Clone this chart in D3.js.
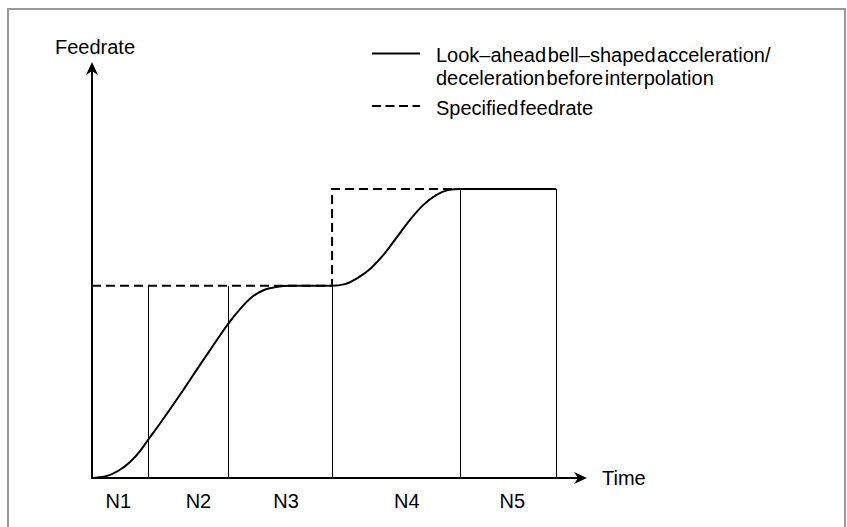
<!DOCTYPE html>
<html>
<head>
<meta charset="utf-8">
<script src="https://cdn.jsdelivr.net/npm/d3@7"></script>
<style>
  html, body { margin: 0; padding: 0; background: #fff; }
  svg { display: block; }
  text { font-family: "Liberation Sans", Arial, sans-serif; fill: #000; }
</style>
</head>
<body>
<svg id="chart" width="847" height="527"></svg>
<script>
// ---- data ----
const curveTime = [0, 2.63, 5.25, 7.68, 9.70, 11.31, 13.74, 17.78, 21.82, 24.85, 27.47, 29.90, 32.32, 34.75, 37.17, 40.0, 48.48, 51.1, 53.7, 56.4, 59.0, 61.6, 64.2, 66.9, 69.5, 71.9, 74.3, 93.7];
const curveFeed = [0, 0.36, 1.68, 3.85, 6.49, 9.13, 13.1, 20.0, 27.2, 32.5, 37.0, 40.6, 43.5, 45.2, 45.9, 46.2, 46.2, 46.6, 48.1, 50.5, 53.8, 57.9, 62.0, 65.6, 68.0, 69.2, 69.5, 69.5];
const specifiedTime = [0, 48.5, 48.5, 93.7];
const specifiedFeed = [46.2, 46.2, 69.5, 69.5];
const boundaryTime = [11.3, 27.5, 48.5, 74.3, 93.7];
const boundaryFeed = [46.2, 46.2, 46.2, 69.5, 69.5];
const segmentLabels = ["N1", "N2", "N3", "N4", "N5"];
const segmentLabelTime = [5.3, 21.5, 39.2, 63.6, 84.9];
const legendLabels = [["Look–ahead bell–shaped acceleration/", "deceleration before interpolation"], ["Specified feedrate"]];
const axisTitles = { x: "Time", y: "Feedrate" };

// ---- drawing ----
const svg = d3.select("#chart");
const x = d3.scaleLinear().domain([0, 100]).range([92, 587]);
const y = d3.scaleLinear().domain([0, 100]).range([478, 62]);

// frame
svg.append("rect").attr("x", 8).attr("y", 9).attr("width", 837).attr("height", 600)
  .attr("fill", "none").attr("stroke", "#9a9a9a").attr("stroke-width", 2);

// boundary lines
svg.selectAll("line.bound").data(boundaryTime).enter().append("line")
  .attr("class", "bound")
  .attr("x1", d => Math.round(x(d)) + 0.5).attr("x2", d => Math.round(x(d)) + 0.5)
  .attr("y1", y(0)).attr("y2", (d, i) => y(boundaryFeed[i]))
  .attr("stroke", "#000").attr("stroke-width", 1);

// specified feedrate (dashed)
const specPts = specifiedTime.map((t, i) => [t, specifiedFeed[i]]);
svg.append("path")
  .attr("d", d3.line().x(d => x(d[0])).y(d => y(d[1]))(specPts))
  .attr("fill", "none").attr("stroke", "#000").attr("stroke-width", 2)
  .attr("stroke-dasharray", "9,5");

// actual curve
const curvePts = curveTime.map((t, i) => [t, curveFeed[i]]);
svg.append("path")
  .attr("d", d3.line().curve(d3.curveMonotoneX).x(d => x(d[0])).y(d => y(d[1]))(curvePts))
  .attr("fill", "none").attr("stroke", "#000").attr("stroke-width", 2);

// axes
const x0 = x(0), y0 = y(0);
svg.append("line").attr("x1", x0).attr("y1", y0).attr("x2", x(100) - 8).attr("y2", y0)
  .attr("stroke", "#000").attr("stroke-width", 2);
svg.append("line").attr("x1", x0).attr("y1", y0 + 1).attr("x2", x0).attr("y2", y(100) + 8)
  .attr("stroke", "#000").attr("stroke-width", 2);
// arrowheads
const xt = x(100), yt = y(100);
svg.append("path")
  .attr("d", `M${xt},${y0} L${xt - 13},${y0 - 6} L${xt - 9},${y0} L${xt - 13},${y0 + 6} Z`)
  .attr("fill", "#000");
svg.append("path")
  .attr("d", `M${x0},${yt} L${x0 - 6},${yt + 13} L${x0},${yt + 9} L${x0 + 6},${yt + 13} Z`)
  .attr("fill", "#000");

// axis titles
svg.append("text").attr("x", 55).attr("y", 54).attr("font-size", 20).text(axisTitles.y);
svg.append("text").attr("x", xt + 15).attr("y", y0 + 7).attr("font-size", 20).text(axisTitles.x);

// segment labels
svg.selectAll("text.seg").data(segmentLabels).enter().append("text")
  .attr("class", "seg")
  .attr("x", (d, i) => x(segmentLabelTime[i])).attr("y", 508)
  .attr("text-anchor", "middle").attr("font-size", 20).text(d => d);

// legend
svg.append("line").attr("x1", 372).attr("x2", 420).attr("y1", 53.5).attr("y2", 53.5)
  .attr("stroke", "#000").attr("stroke-width", 2);
svg.append("line").attr("x1", 372).attr("x2", 420).attr("y1", 106).attr("y2", 106)
  .attr("stroke", "#000").attr("stroke-width", 2).attr("stroke-dasharray", "9,4.5");
const lg = svg.append("g").attr("font-size", 20).attr("word-spacing", "-4px");
lg.append("text").attr("x", 436).attr("y", 62).text(legendLabels[0][0]);
lg.append("text").attr("x", 436).attr("y", 85).text(legendLabels[0][1]);
lg.append("text").attr("x", 436).attr("y", 115).text(legendLabels[1][0]);
</script>
</body>
</html>
